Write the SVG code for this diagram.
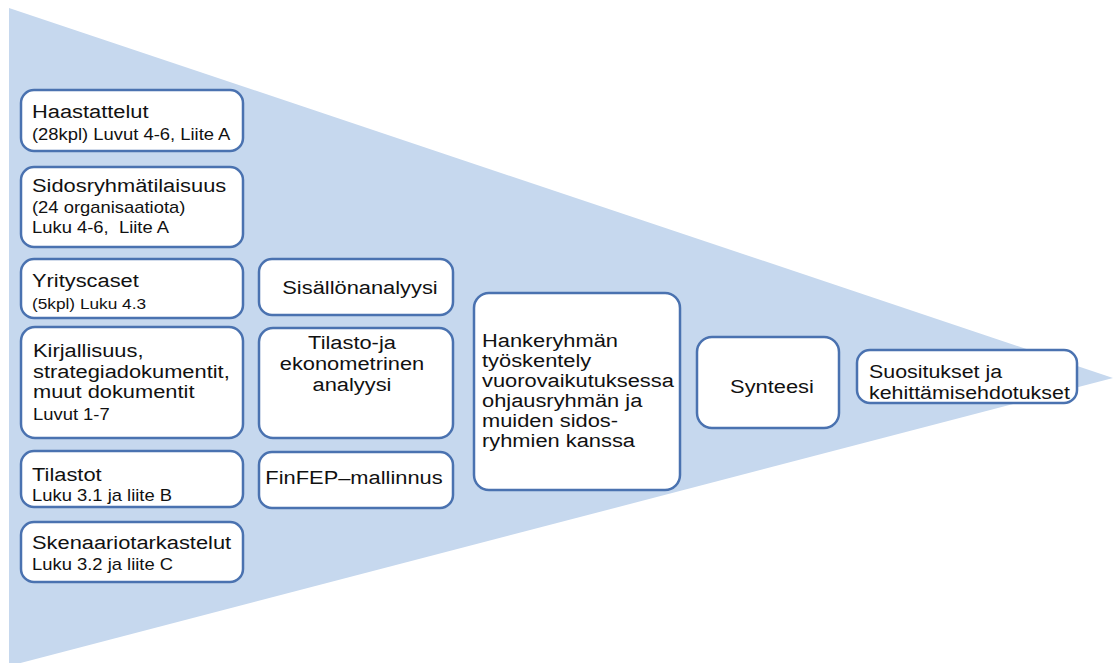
<svg xmlns="http://www.w3.org/2000/svg" width="1114" height="663" viewBox="0 0 1114 663">
  <style>
    .box { fill: #ffffff; stroke: #4a72b0; stroke-width: 2.5; }
    .lg { font-family: "Liberation Sans", Arial, sans-serif; font-size: 19px; fill: #111111; }
    .sm { font-family: "Liberation Sans", Arial, sans-serif; font-size: 16px; fill: #111111; }
    .mid { text-anchor: middle; }
  </style>

  <!-- background funnel -->
  <polygon points="9,8 1113,378 9,666" fill="#c6d8ee"/>

  <!-- left column: sources -->
  <g id="haastattelut">
    <rect class="box" x="21" y="90" width="222" height="61" rx="13"/>
    <text class="lg" transform="translate(32 118) scale(1.15 1)">Haastattelut</text>
    <text class="sm" transform="translate(32 140) scale(1.15 1)">(28kpl) Luvut 4-6, Liite A</text>
  </g>
  <g id="sidosryhmatilaisuus">
    <rect class="box" x="21" y="167" width="222" height="80" rx="13"/>
    <text class="lg" transform="translate(32 192) scale(1.15 1)">Sidosryhmätilaisuus</text>
    <text class="sm" transform="translate(32 213) scale(1.15 1)">(24 organisaatiota)</text>
    <text class="sm" transform="translate(32 233) scale(1.15 1)" xml:space="preserve">Luku 4-6,  Liite A</text>
  </g>
  <g id="yrityscaset">
    <rect class="box" x="21" y="259" width="222" height="59" rx="13"/>
    <text class="lg" transform="translate(32 287) scale(1.15 1)">Yrityscaset</text>
    <text class="sm" transform="translate(32 309) scale(1.15 1)" style="font-size:15px">(5kpl) Luku 4.3</text>
  </g>
  <g id="kirjallisuus">
    <rect class="box" x="21" y="327" width="222" height="111" rx="14"/>
    <text class="lg" transform="translate(33 357) scale(1.15 1)"><tspan x="0" y="0">Kirjallisuus,</tspan><tspan x="0" y="21">strategiadokumentit,</tspan><tspan x="0" y="41">muut dokumentit</tspan></text>
    <text class="sm" transform="translate(33 420) scale(1.15 1)">Luvut 1-7</text>
  </g>
  <g id="tilastot">
    <rect class="box" x="21" y="451" width="222" height="56" rx="13"/>
    <text class="lg" transform="translate(32 481) scale(1.15 1)">Tilastot</text>
    <text class="sm" transform="translate(32 501) scale(1.15 1)">Luku 3.1 ja liite B</text>
  </g>
  <g id="skenaariotarkastelut">
    <rect class="box" x="21" y="522" width="222" height="60" rx="13"/>
    <text class="lg" transform="translate(32 549) scale(1.15 1)">Skenaariotarkastelut</text>
    <text class="sm" transform="translate(32 570) scale(1.15 1)">Luku 3.2 ja liite C</text>
  </g>

  <!-- second column: methods -->
  <g id="sisallonanalyysi">
    <rect class="box" x="259" y="259" width="194" height="56" rx="13"/>
    <text class="lg mid" transform="translate(360 294) scale(1.15 1)">Sisällönanalyysi</text>
  </g>
  <g id="tilastoanalyysi">
    <rect class="box" x="259" y="328" width="194" height="110" rx="14"/>
    <text class="lg mid" transform="translate(352 349) scale(1.15 1)"><tspan x="0" y="0">Tilasto-ja</tspan><tspan x="0" y="21">ekonometrinen</tspan><tspan x="0" y="42">analyysi</tspan></text>
  </g>
  <g id="finfep">
    <rect class="box" x="259" y="452" width="194" height="56" rx="13"/>
    <text class="lg mid" transform="translate(354 484) scale(1.15 1)">FinFEP–mallinnus</text>
  </g>

  <!-- project group work -->
  <g id="hankeryhma">
    <rect class="box" x="474" y="293" width="206" height="197" rx="15"/>
    <text class="lg" transform="translate(482 347) scale(1.15 1)"><tspan x="0" y="0">Hankeryhmän</tspan><tspan x="0" y="20">työskentely</tspan><tspan x="0" y="40">vuorovaikutuksessa</tspan><tspan x="0" y="60">ohjausryhmän ja</tspan><tspan x="0" y="80">muiden sidos-</tspan><tspan x="0" y="100">ryhmien kanssa</tspan></text>
  </g>

  <!-- synthesis and outcome -->
  <g id="synteesi">
    <rect class="box" x="697" y="337" width="142" height="91" rx="15"/>
    <text class="lg mid" transform="translate(772 393) scale(1.15 1)">Synteesi</text>
  </g>
  <g id="suositukset">
    <rect class="box" x="857" y="350" width="220" height="53" rx="13"/>
    <text class="lg" transform="translate(869 378) scale(1.15 1)" style="font-size:18.6px"><tspan x="0" y="0">Suositukset ja</tspan><tspan x="0" y="21">kehittämisehdotukset</tspan></text>
  </g>

  <!-- no explicit connectors: the funnel carries the flow -->
  <g id="connectors"/>
</svg>
